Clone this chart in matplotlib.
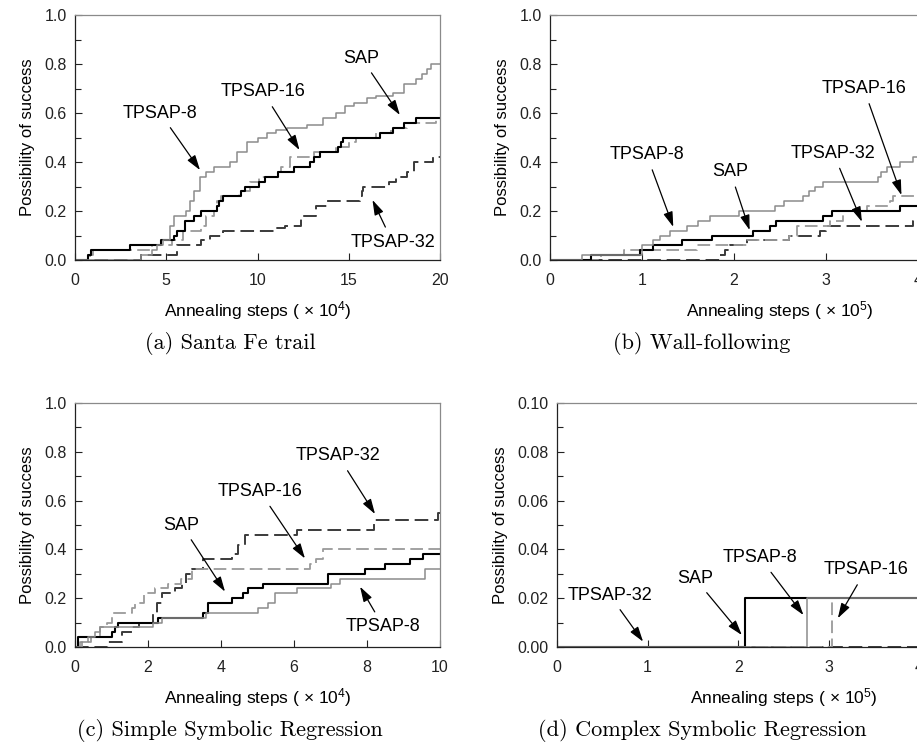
import matplotlib
matplotlib.use("Agg")
import matplotlib.pyplot as plt

plt.rcParams['font.family'] = ['Liberation Sans', 'DejaVu Sans']
plt.rcParams['mathtext.fontset'] = 'custom'
plt.rcParams['mathtext.rm'] = 'Liberation Sans'
plt.rcParams['mathtext.it'] = 'Liberation Sans'

# ---- (a) Santa Fe trail, x in 1e4 steps ----
a_sap_x = [0, 0.73, 0.9, 3.0, 4.7, 5.4, 5.6, 6.0, 6.5, 6.9, 7.8, 7.9, 8.1, 9.1, 9.3, 10.1, 10.4,
           11.1, 12.0, 12.9, 13.1, 13.4, 14.4, 14.6, 14.7, 16.7, 17.4, 18.0, 18.7, 20]
a_sap_y = [0, 0.02, 0.04, 0.06, 0.08, 0.10, 0.12, 0.16, 0.18, 0.20, 0.22, 0.24, 0.26, 0.28, 0.30, 0.32, 0.34,
           0.36, 0.38, 0.40, 0.42, 0.44, 0.46, 0.48, 0.50, 0.52, 0.54, 0.56, 0.58, 0.58]
a_t8_x = [0, 3.6, 4.2, 4.5, 4.8, 5.2, 5.4, 6.1, 6.3, 6.5, 6.85, 7.2, 7.6, 8.5, 8.9, 9.4, 10.0, 10.5,
          11.0, 11.6, 12.7, 13.6, 14.3, 14.8, 15.3, 16.0, 16.5, 17.4, 18.0, 18.7, 19.0, 19.3, 19.5, 20]
a_t8_y = [0, 0.02, 0.04, 0.06, 0.08, 0.14, 0.18, 0.20, 0.24, 0.28, 0.34, 0.36, 0.38, 0.40, 0.44, 0.48, 0.50, 0.52,
          0.53, 0.54, 0.55, 0.58, 0.60, 0.63, 0.64, 0.66, 0.67, 0.68, 0.72, 0.74, 0.76, 0.78, 0.80, 0.80]
a_t16_x = [0, 0.8, 1.0, 4.2, 5.3, 5.9, 6.9, 7.2, 7.6, 7.8, 8.0, 9.0, 9.6, 10.1, 11.1, 11.3, 11.8,
           13.1, 14.3, 15.0, 15.4, 16.5, 17.3, 18.2, 19.8, 20]
a_t16_y = [0, 0.02, 0.04, 0.06, 0.08, 0.12, 0.14, 0.18, 0.20, 0.24, 0.26, 0.28, 0.32, 0.34, 0.36, 0.38, 0.42,
           0.44, 0.46, 0.48, 0.50, 0.52, 0.54, 0.56, 0.58, 0.58]
a_t32_x = [0, 3.6, 5.6, 6.9, 7.4, 8.1, 11.0, 11.5, 12.4, 13.2, 13.8, 15.6, 15.7, 15.8, 17.2, 17.6, 18.2,
           18.6, 19.6, 20]
a_t32_y = [0, 0.02, 0.06, 0.08, 0.10, 0.12, 0.13, 0.14, 0.18, 0.22, 0.24, 0.26, 0.28, 0.30, 0.32, 0.34, 0.36,
           0.40, 0.42, 0.42]

# ---- (b) Wall-following, x in 1e5 steps ----
b_sap_x = [0, 0.45, 0.98, 1.12, 1.43, 1.76, 2.21, 2.39, 2.46, 2.97, 3.06, 3.8, 5]
b_sap_y = [0, 0.02, 0.04, 0.06, 0.08, 0.10, 0.12, 0.14, 0.16, 0.18, 0.20, 0.22, 0.22]
b_t8_x = [0, 0.35, 1.0, 1.12, 1.2, 1.3, 1.49, 1.61, 1.74, 2.05, 2.45, 2.54, 2.75, 2.81, 2.88, 2.97,
          3.57, 3.6, 3.66, 3.8, 3.95, 5]
b_t8_y = [0, 0.02, 0.06, 0.08, 0.10, 0.12, 0.14, 0.16, 0.18, 0.20, 0.22, 0.24, 0.26, 0.28, 0.30, 0.32,
          0.34, 0.36, 0.38, 0.40, 0.42, 0.42]
b_t16_x = [0, 0.55, 0.8, 1.6, 2.14, 2.6, 2.68, 3.04, 3.19, 3.45, 3.7, 3.73, 5]
b_t16_y = [0, 0.02, 0.04, 0.06, 0.08, 0.10, 0.14, 0.16, 0.20, 0.22, 0.24, 0.26, 0.26]
b_t32_x = [0, 1.85, 1.9, 1.96, 2.14, 2.6, 2.94, 3.0, 3.95, 5]
b_t32_y = [0, 0.02, 0.04, 0.06, 0.08, 0.10, 0.12, 0.14, 0.16, 0.16]

# ---- (c) Simple Symbolic Regression, x in 1e4 steps ----
c_sap_x = [0, 0.09, 1.0, 1.1, 1.19, 2.28, 3.5, 3.65, 4.3, 4.6, 4.75, 5.16, 6.94, 7.95, 8.5, 9.18, 9.54, 10]
c_sap_y = [0, 0.04, 0.06, 0.08, 0.10, 0.12, 0.14, 0.18, 0.20, 0.22, 0.24, 0.26, 0.30, 0.32, 0.34, 0.36, 0.38, 0.38]
c_t8_x = [0, 0.14, 0.35, 0.55, 0.68, 2.15, 2.37, 3.6, 5.0, 5.3, 5.48, 6.07, 7.0, 7.26, 9.6, 10]
c_t8_y = [0, 0.02, 0.04, 0.06, 0.08, 0.10, 0.12, 0.14, 0.16, 0.18, 0.22, 0.24, 0.26, 0.28, 0.32, 0.32]
c_t16_x = [0, 0.18, 0.45, 0.68, 0.87, 1.0, 1.55, 1.65, 1.9, 2.19, 2.56, 2.9, 3.2, 6.44, 6.6, 6.8, 10]
c_t16_y = [0, 0.02, 0.04, 0.08, 0.10, 0.14, 0.16, 0.18, 0.22, 0.24, 0.26, 0.28, 0.32, 0.34, 0.36, 0.40, 0.40]
c_t32_x = [0, 0.91, 1.28, 1.55, 1.74, 2.15, 2.24, 2.37, 2.74, 2.92, 3.05, 3.2, 3.52, 4.3, 4.47, 4.66,
           6.07, 8.2, 9.95, 10]
c_t32_y = [0, 0.02, 0.06, 0.08, 0.10, 0.14, 0.18, 0.22, 0.24, 0.26, 0.30, 0.32, 0.36, 0.38, 0.42, 0.46,
           0.48, 0.52, 0.55, 0.55]

# ---- (d) Complex Symbolic Regression, x in 1e5 steps ----
d_sap_x = [0, 2.08, 5]
d_sap_y = [0, 0.02, 0.02]
d_t8_x = [0, 2.76, 5]
d_t8_y = [0, 0.02, 0.02]
d_t16_x = [0, 3.03, 5]
d_t16_y = [0, 0.02, 0.02]
d_t32_x = [0, 5]
d_t32_y = [0, 0]

# label text, text position, arrow head position (data units)
a_notes = [("TPSAP-8", (4.66, 0.60), (6.85, 0.367)),
           ("TPSAP-16", (10.3, 0.686), (12.3, 0.449)),
           ("SAP", (15.7, 0.824), (17.8, 0.592)),
           ("TPSAP-32", (17.4, 0.073), (16.3, 0.245))]
b_notes = [("TPSAP-8", (1.05, 0.43), (1.34, 0.135)),
           ("SAP", (1.96, 0.36), (2.17, 0.122)),
           ("TPSAP-32", (3.08, 0.436), (3.39, 0.156)),
           ("TPSAP-16", (3.41, 0.70), (3.82, 0.265))]
c_notes = [("TPSAP-32", (7.21, 0.783), (8.22, 0.545)),
           ("TPSAP-16", (5.07, 0.637), (6.3, 0.363)),
           ("SAP", (2.92, 0.50), (4.11, 0.227)),
           ("TPSAP-8", (8.45, 0.083), (7.81, 0.247))]
d_notes = [("TPSAP-32", (0.58, 0.0213), (0.95, 0.0022)),
           ("SAP", (1.52, 0.0282), (2.04, 0.0049)),
           ("TPSAP-8", (2.24, 0.0366), (2.72, 0.0131)),
           ("TPSAP-16", (3.41, 0.0316), (3.10, 0.0118))]

captions = ["(a) Santa Fe trail", "(b) Wall-following",
            "(c) Simple Symbolic Regression", "(d) Complex Symbolic Regression"]

W, H = 917, 743
fig = plt.figure(figsize=(W / 100, H / 100), dpi=100)


def make_axes(left, top, width, height):
    return fig.add_axes([left / W, 1 - (top + height) / H, width / W, height / H])


def style(ax, xlim, xticks, ylim, yticks, yminor, power, ylabels):
    ax.set_xlim(*xlim)
    ax.set_ylim(*ylim)
    ax.set_xticks(xticks)
    ax.set_yticks(yticks)
    ax.set_yticklabels(ylabels)
    ax.set_yticks(yminor, minor=True)
    ax.tick_params(direction='in', length=5, width=0.8, labelsize=11.5, colors='#222222')
    ax.tick_params(axis='y', which='minor', direction='in', length=4, width=0.8, colors='#222222')
    ax.tick_params(axis='x', pad=9.5)
    ax.tick_params(axis='y', pad=6)
    for s in ['left', 'bottom']:
        ax.spines[s].set_color('#222222')
        ax.spines[s].set_linewidth(0.9)
    for s in ['top', 'right']:
        ax.spines[s].set_color('#8a8a8a')
        ax.spines[s].set_linewidth(0.9)
    ax.set_xlabel(r'Annealing steps ( $\times$ 10$^{%d}$)' % power, fontsize=12.5, labelpad=7.5)
    ax.set_ylabel('Possibility of success', fontsize=12, labelpad=7)


def draw(ax, sap, t8, t16, t32, notes):
    ax.plot(*t32, drawstyle='steps-post', color='#3a3a3a', lw=1.4, ls=(0, (7, 3)))
    ax.plot(*t16, drawstyle='steps-post', color='#9a9a9a', lw=1.3, ls=(0, (7, 3)))
    ax.plot(*sap, drawstyle='steps-post', color='#000000', lw=1.5)
    ax.plot(*t8, drawstyle='steps-post', color='#8c8c8c', lw=1.1)
    for txt, pos, head in notes:
        ax.annotate(txt, xy=head, xytext=pos, fontsize=13, ha='center', va='center',
                    arrowprops=dict(arrowstyle='-|>,head_length=0.7,head_width=0.22',
                                    color='black', lw=0.9, shrinkA=3, shrinkB=0))


ylab1 = ['0.0', '0.2', '0.4', '0.6', '0.8', '1.0']
ylab2 = ['0.00', '0.02', '0.04', '0.06', '0.08', '0.10']
yt1 = [0, 0.2, 0.4, 0.6, 0.8, 1.0]
ym1 = [0.1, 0.3, 0.5, 0.7, 0.9]
yt2 = [0, 0.02, 0.04, 0.06, 0.08, 0.10]
ym2 = [0.01, 0.03, 0.05, 0.07, 0.09]

ax_a = make_axes(75, 15, 365, 245)
style(ax_a, (0, 20), [0, 5, 10, 15, 20], (0, 1), yt1, ym1, 4, ylab1)
draw(ax_a, (a_sap_x, a_sap_y), (a_t8_x, a_t8_y), (a_t16_x, a_t16_y), (a_t32_x, a_t32_y), a_notes)

ax_b = make_axes(550, 15, 460, 245)
style(ax_b, (0, 5), [0, 1, 2, 3, 4, 5], (0, 1), yt1, ym1, 5, ylab1)
draw(ax_b, (b_sap_x, b_sap_y), (b_t8_x, b_t8_y), (b_t16_x, b_t16_y), (b_t32_x, b_t32_y), b_notes)

ax_c = make_axes(75, 403, 365, 244)
style(ax_c, (0, 10), [0, 2, 4, 6, 8, 10], (0, 1), yt1, ym1, 4, ylab1)
draw(ax_c, (c_sap_x, c_sap_y), (c_t8_x, c_t8_y), (c_t16_x, c_t16_y), (c_t32_x, c_t32_y), c_notes)

ax_d = make_axes(557, 403, 453, 244)
style(ax_d, (0, 5), [0, 1, 2, 3, 4, 5], (0, 0.1), yt2, ym2, 5, ylab2)
draw(ax_d, (d_sap_x, d_sap_y), (d_t8_x, d_t8_y), (d_t16_x, d_t16_y), (d_t32_x, d_t32_y), d_notes)

# captions in a serif face, centred under each sub-figure
cap_pos = [(230, 343), (702, 343), (230, 730), (702, 730)]
for txt, (cx, cy) in zip(captions, cap_pos):
    fig.text(cx / W, 1 - cy / H, txt, family=['cmr10', 'DejaVu Serif'], fontsize=16,
             ha='center', va='center')

fig.savefig('out.png', dpi=100)
